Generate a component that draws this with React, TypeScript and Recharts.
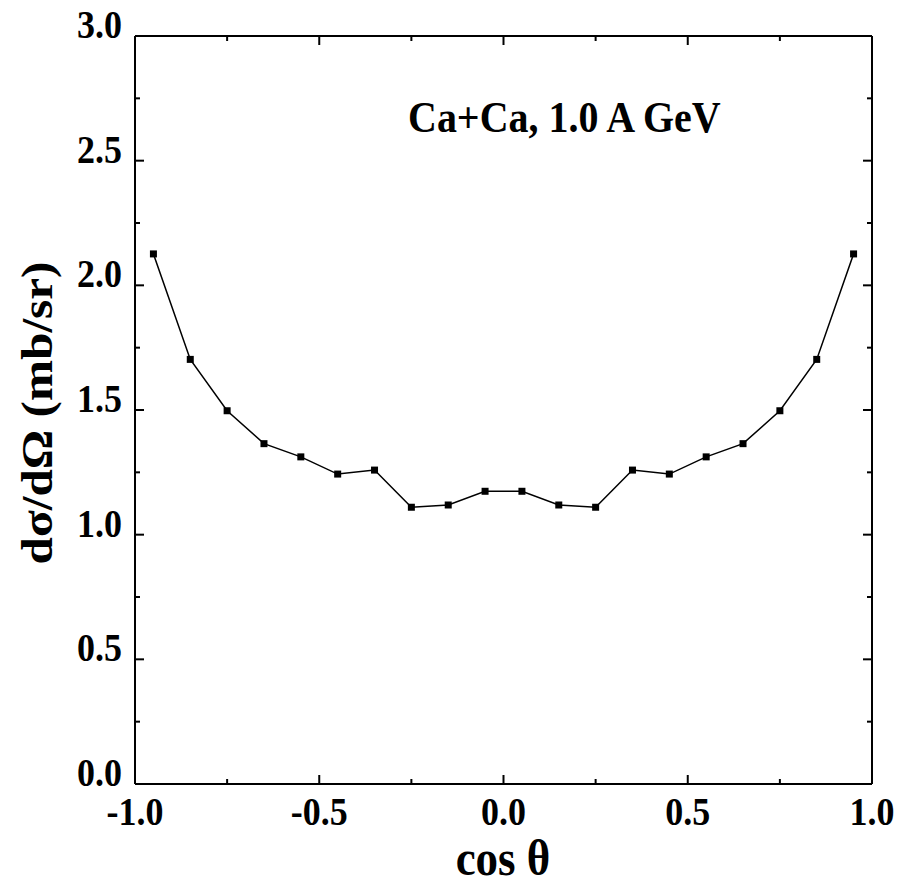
import React from 'react';
import { LineChart, Line, XAxis, YAxis, Customized } from 'recharts';

const cosTheta = [-0.95, -0.85, -0.75, -0.65, -0.55, -0.45, -0.35, -0.25, -0.15, -0.05, 0.05, 0.15, 0.25, 0.35, 0.45, 0.55, 0.65, 0.75, 0.85, 0.95];
const dSigma = [2.126, 1.703, 1.497, 1.365, 1.312, 1.243, 1.259, 1.110, 1.119, 1.174, 1.174, 1.119, 1.110, 1.259, 1.243, 1.312, 1.365, 1.497, 1.703, 2.126];
const xTicks = [-1, -0.75, -0.5, -0.25, 0, 0.25, 0.5, 0.75, 1];
const yTicks = [0, 0.25, 0.5, 0.75, 1, 1.25, 1.5, 1.75, 2, 2.25, 2.5, 2.75, 3];
const xTickLabels = ['-1.0', '-0.5', '0.0', '0.5', '1.0'];
const yTickLabels = ['0.0', '0.5', '1.0', '1.5', '2.0', '2.5', '3.0'];

const title = 'Ca+Ca, 1.0 A GeV';
const xTitle = 'cos θ';
const yTitle = 'dσ/dΩ (mb/sr)';

const data = cosTheta.map((c, i) => ({ c, v: dSigma[i] }));

const FONT = '"Liberation Serif", "Times New Roman", serif';
const MAJOR = 9;
const MINOR = 5;
const SY = 1.12;

const isMajor = (v: number) => Math.abs(v * 2 - Math.round(v * 2)) < 1e-6;
const labelFor = (v: number, list: string[]) => list[Math.round(v * 2) - Math.round(Number(list[0]) * 2)];

const BottomTick = (props: any) => {
  const { x, y, payload } = props;
  const v = payload.value;
  const major = isMajor(v);
  return (
    <g>
      <line x1={x} x2={x} y1={y} y2={y - (major ? MAJOR : MINOR)} stroke="#000" strokeWidth={2} />
      {major && (
        <text x={0} y={0} transform={`translate(${x},${y + 41}) scale(1,${SY})`} textAnchor="middle" fontFamily={FONT} fontWeight="bold" fontSize={36} fill="#000">
          {labelFor(v, xTickLabels)}
        </text>
      )}
    </g>
  );
};

const TopTick = (props: any) => {
  const { x, y, payload } = props;
  const major = isMajor(payload.value);
  return <line x1={x} x2={x} y1={y} y2={y + (major ? MAJOR : MINOR)} stroke="#000" strokeWidth={2} />;
};

const LeftTick = (props: any) => {
  const { x, y, payload } = props;
  const v = payload.value;
  const major = isMajor(v);
  return (
    <g>
      <line x1={x} x2={x + (major ? MAJOR : MINOR)} y1={y} y2={y} stroke="#000" strokeWidth={2} />
      {major && (
        <text x={0} y={0} transform={`translate(${x - 13},${y + 2}) scale(1,${SY})`} textAnchor="end" fontFamily={FONT} fontWeight="bold" fontSize={36} fill="#000">
          {labelFor(v, yTickLabels)}
        </text>
      )}
    </g>
  );
};

const RightTick = (props: any) => {
  const { x, y, payload } = props;
  const major = isMajor(payload.value);
  return <line x1={x} x2={x - (major ? MAJOR : MINOR)} y1={y} y2={y} stroke="#000" strokeWidth={2} />;
};

const SquareDot = (props: any) => {
  const { cx, cy, index } = props;
  if (cx == null || cy == null) return null;
  return <rect key={`d${index}`} x={cx - 3.5} y={cy - 3.5} width={7} height={7} fill="#000" />;
};

const Texts = () => (
  <g>
    <text x={0} y={0} transform={`translate(408,132) scale(1,${SY})`} fontFamily={FONT} fontWeight="bold" fontSize={40} fill="#000">{title}</text>
    <text x={0} y={0} transform={`translate(503,875) scale(1,${SY})`} textAnchor="middle" fontFamily={FONT} fontWeight="bold" fontSize={45} fill="#000">{xTitle}</text>
    <text x={0} y={0} transform={`translate(52,413) scale(1,${SY}) rotate(-90)`} textAnchor="middle" fontFamily={FONT} fontWeight="bold" fontSize={44} fill="#000">{yTitle}</text>
  </g>
);

export default function App() {
  return (
    <div style={{ position: 'absolute', left: 0, top: 0, width: 902, height: 888, background: '#fff' }}>
      <LineChart width={902} height={888} data={data} margin={{ top: 0, right: 0, bottom: 0, left: 0 }}>
        <XAxis xAxisId="b" dataKey="c" type="number" domain={[-1, 1]} ticks={xTicks} orientation="bottom" height={104}
          tickSize={0} tickMargin={0} tickLine={false} axisLine={{ stroke: '#000', strokeWidth: 2 }} tick={<BottomTick />} interval={0} allowDataOverflow />
        <XAxis xAxisId="t" dataKey="c" type="number" domain={[-1, 1]} ticks={xTicks} orientation="top" height={36}
          tickSize={0} tickMargin={0} tickLine={false} axisLine={{ stroke: '#000', strokeWidth: 2 }} tick={<TopTick />} interval={0} allowDataOverflow />
        <YAxis yAxisId="l" type="number" domain={[0, 3]} ticks={yTicks} orientation="left" width={135}
          tickSize={0} tickMargin={0} tickLine={false} axisLine={{ stroke: '#000', strokeWidth: 2 }} tick={<LeftTick />} interval={0} allowDataOverflow />
        <YAxis yAxisId="r" type="number" domain={[0, 3]} ticks={yTicks} orientation="right" width={30}
          tickSize={0} tickMargin={0} tickLine={false} axisLine={{ stroke: '#000', strokeWidth: 2 }} tick={<RightTick />} interval={0} allowDataOverflow />
        <Line xAxisId="b" yAxisId="l" dataKey="v" stroke="#000" strokeWidth={1.5} dot={<SquareDot />} activeDot={false} isAnimationActive={false} />
        <Customized component={Texts} />
      </LineChart>
    </div>
  );
}
